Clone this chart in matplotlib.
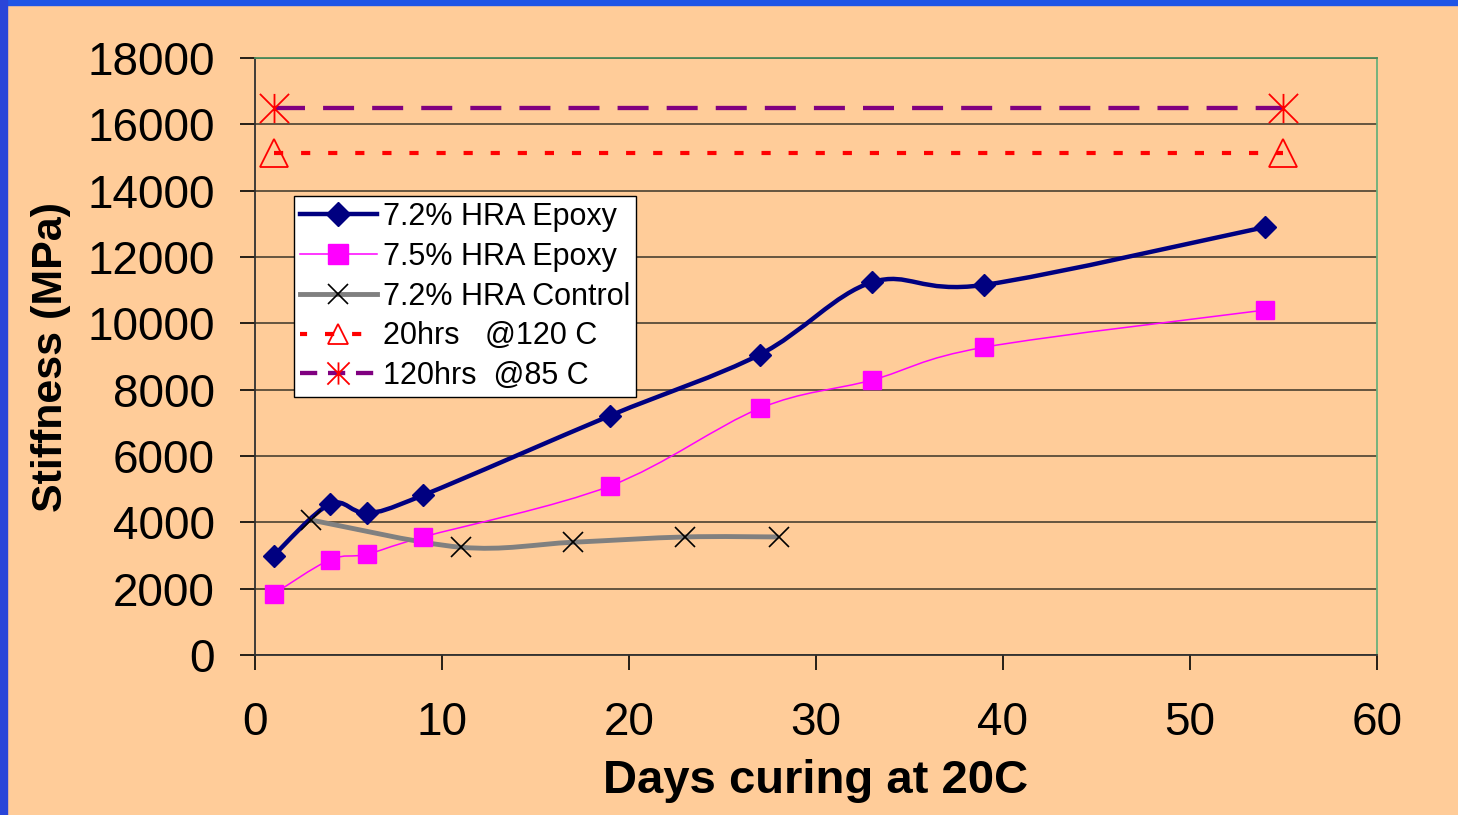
import numpy as np
import matplotlib
matplotlib.use('Agg')
import matplotlib.pyplot as plt
from matplotlib.path import Path
from matplotlib.patches import PathPatch, Rectangle
from matplotlib.lines import Line2D

plt.rcParams['font.family'] = ['Liberation Sans', 'DejaVu Sans']

bg_color = '#FFCC99'
navy = '#000080'
magenta = '#FF00FF'

# datos
epoxy72_days = [1, 4, 6, 9, 19, 27, 33, 39, 54]
epoxy72_stiff = [3000, 4550, 4280, 4820, 7220, 9060, 11240, 11160, 12900]
epoxy75_days = [1, 4, 6, 9, 19, 27, 33, 39, 54]
epoxy75_stiff = [1840, 2870, 3040, 3560, 5100, 7440, 8290, 9280, 10400]
control_days = [3, 11, 17, 23, 28]
control_stiff = [4070, 3250, 3400, 3560, 3560]
ref_days = [1, 55]
ref_120C = [15140, 15140]
ref_85C = [16500, 16500]
labels = ['7.2% HRA Epoxy', '7.5% HRA Epoxy', '7.2% HRA Control',
          '20hrs   @120 C', '120hrs  @85 C']


def smooth_path(x, y):
    # curva tipo Excel (Catmull-Rom como Bezier)
    p = np.column_stack([x, y]).astype(float)
    n = len(p)
    verts = [p[0]]
    codes = [Path.MOVETO]
    for i in range(n - 1):
        p0 = p[i - 1] if i > 0 else p[i]
        p3 = p[i + 2] if i + 2 < n else p[i + 1]
        c1 = p[i] + (p[i + 1] - p0) / 6.0
        c2 = p[i + 1] - (p3 - p[i]) / 6.0
        verts += [c1, c2, p[i + 1]]
        codes += [Path.CURVE4] * 3
    return Path(verts, codes)


# marcador asterisco de Excel
star = Path([(0, -1), (0, 1), (-1, -1), (1, 1), (-1, 1), (1, -1)],
            [Path.MOVETO, Path.LINETO, Path.MOVETO, Path.LINETO, Path.MOVETO, Path.LINETO])

dotted = (0, (2.2, 4.3))
dashed = (0, (7.2, 4.2))

fig = plt.figure(figsize=(14.58, 8.15), dpi=100)
fig.patch.set_facecolor(bg_color)
# marco azul de la diapositiva
fig.patches.append(Rectangle((0, 0.9935), 1, 0.0065, transform=fig.transFigure, color='#1f55e6', zorder=0))
fig.patches.append(Rectangle((0, 0), 0.0045, 1, transform=fig.transFigure, color='#2a45d8', zorder=0))

ax = fig.add_axes([0.1749, 0.1963, 0.7695, 0.7325])
ax.set_facecolor(bg_color)

ax.set_xlim(0, 60)
ax.set_ylim(0, 18000)
ax.set_xticks(range(0, 61, 10))
ax.set_yticks(range(0, 18001, 2000))
ax.yaxis.grid(True, color='#4a4030', linewidth=1.2)
ax.set_axisbelow(True)

ax.add_patch(PathPatch(smooth_path(epoxy72_days, epoxy72_stiff), fill=False, edgecolor=navy, lw=3.2, zorder=3))
ax.plot(epoxy72_days, epoxy72_stiff, linestyle='none', marker='D', ms=11, color=navy, zorder=4)

ax.add_patch(PathPatch(smooth_path(epoxy75_days, epoxy75_stiff), fill=False, edgecolor=magenta, lw=1.1, zorder=3))
ax.plot(epoxy75_days, epoxy75_stiff, linestyle='none', marker='s', ms=13, color=magenta, zorder=4)

ax.add_patch(PathPatch(smooth_path(control_days, control_stiff), fill=False, edgecolor='#808080', lw=3.5, zorder=3))
ax.plot(control_days, control_stiff, linestyle='none', marker='x', ms=14, mew=1.2, color='black', zorder=4)

ax.plot(ref_days, ref_120C, color='red', lw=3, linestyle=dotted, dash_capstyle='butt',
        marker='^', ms=20, mfc='none', mec='red', mew=1.3, zorder=3)
ax.plot(ref_days, ref_85C, color='#800080', lw=3.1, linestyle=dashed, dash_capstyle='butt',
        marker=star, ms=21, mec='red', mew=1.3, zorder=3)

handles = [
    Line2D([], [], color=navy, lw=3.2, marker='D', ms=12),
    Line2D([], [], color=magenta, lw=1.1, marker='s', ms=14),
    Line2D([], [], color='#808080', lw=3.5, marker='x', ms=14, mew=1.2, mec='black'),
    Line2D([], [], color='red', lw=3, linestyle=(0.5, (2.2, 4.3)), marker='^', ms=15, mfc='none', mec='red', mew=1.3),
    Line2D([], [], color='#800080', lw=3.1, linestyle=(0, (4, 2.5)), marker=star, ms=16, mec='red', mew=1.3),
]
leg = ax.legend(handles, labels, loc='upper left', bbox_to_anchor=(0.0348, 0.769), borderaxespad=0,
                fontsize=22, frameon=True, fancybox=False, framealpha=1, edgecolor='black',
                handlelength=2.5, handletextpad=0.2, labelspacing=0.32, borderpad=0.2)
leg.get_frame().set_linewidth(1.0)
leg.set_zorder(10)

ax.spines['left'].set_color('#303030')
ax.spines['bottom'].set_color('#303030')
ax.spines['top'].set_color('#4a8a5a')
ax.spines['right'].set_color('#6ab07a')
for s in ax.spines.values():
    s.set_linewidth(1.3)

ax.tick_params(axis='both', direction='out', length=11, width=1.2, color='black', labelsize=33)
ax.tick_params(axis='y', pad=18)
ax.tick_params(axis='x', pad=22)

ax.set_xlabel('Days curing at 20C', fontsize=34, fontweight='bold', labelpad=10)
ax.set_ylabel('Stiffness (MPa)', fontsize=31, fontweight='bold', labelpad=12)

plt.savefig('out.png', dpi=100, facecolor=bg_color)
